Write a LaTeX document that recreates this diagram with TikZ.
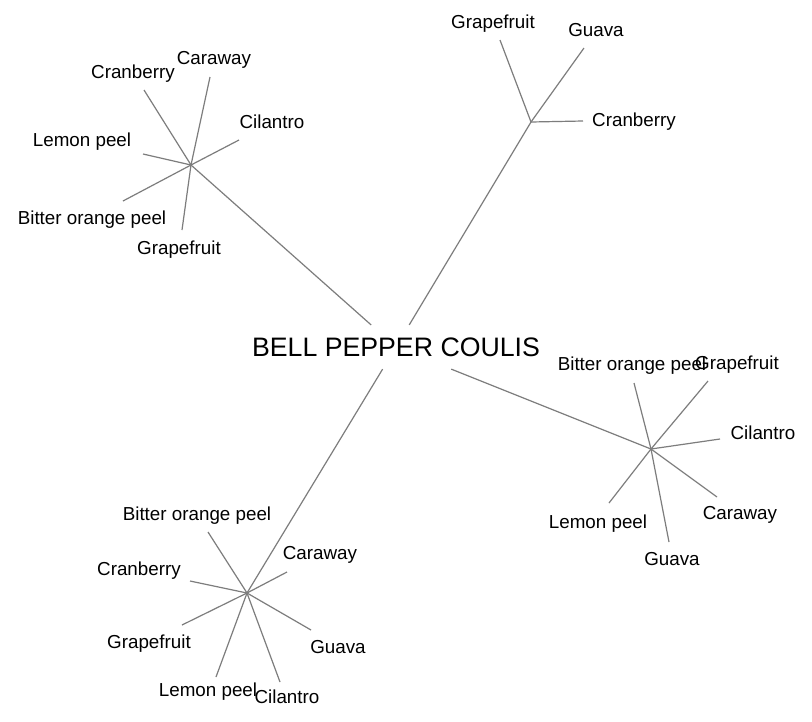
\documentclass[tikz,border=0pt]{standalone}
\usepackage{fontspec}
\setmainfont{Liberation Sans}
\definecolor{edgegray}{RGB}{125,125,125}
\tikzset{
  leaf/.style={font=\fontsize{18.8}{22}\selectfont, inner sep=0pt, text height=13pt, text depth=0pt},
  root/.style={font=\fontsize{26.7}{30}\selectfont, inner sep=0pt, text height=18.6pt, text depth=0pt, minimum height=43pt},
  every path/.style={draw=edgegray, line width=1.2pt}
}
\begin{document}
\begin{tikzpicture}[x=1pt, y=-1pt]
\useasboundingbox[draw=none, fill=white] (0,0) rectangle (812,721);
\node[root] (n00) at (396, 347) {BELL PEPPER COULIS};

\coordinate (h1) at (191, 165);
\coordinate (h2) at (531, 122);
\coordinate (h3) at (651, 449);
\coordinate (h4) at (247, 593);

\coordinate (e11) at (144, 90);
\coordinate (e12) at (210, 77);
\coordinate (e13) at (239, 140);
\coordinate (e14) at (143, 154);
\coordinate (e15) at (123, 201);
\coordinate (e16) at (182, 230);

\coordinate (e21) at (500, 40);
\coordinate (e22) at (584, 48);
\coordinate (e23) at (583, 121);

\coordinate (e31) at (634, 383);
\coordinate (e32) at (708, 381);
\coordinate (e33) at (720, 439);
\coordinate (e34) at (717, 497);
\coordinate (e35) at (669, 542);
\coordinate (e36) at (609, 503);

\coordinate (e41) at (208, 532);
\coordinate (e42) at (287, 572);
\coordinate (e43) at (190, 581);
\coordinate (e44) at (182, 625);
\coordinate (e45) at (216, 677);
\coordinate (e46) at (280, 682);
\coordinate (e47) at (311, 630);

\node[leaf] (l11) at (133, 72) {Cranberry};
\node[leaf] (l12) at (214, 58) {Caraway};
\node[leaf] (l13) at (272, 122) {Cilantro};
\node[leaf] (l14) at (82, 140) {Lemon peel};
\node[leaf] (l15) at (92, 218) {Bitter orange peel};
\node[leaf] (l16) at (179, 248) {Grapefruit};

\node[leaf] (l21) at (493, 22) {Grapefruit};
\node[leaf] (l22) at (596, 30) {Guava};
\node[leaf] (l23) at (634, 120) {Cranberry};

\node[leaf] (l31) at (632, 364) {Bitter orange peel};
\node[leaf] (l32) at (737, 363) {Grapefruit};
\node[leaf] (l33) at (763, 433) {Cilantro};
\node[leaf] (l34) at (740, 513) {Caraway};
\node[leaf] (l35) at (672, 559) {Guava};
\node[leaf] (l36) at (598, 522) {Lemon peel};

\node[leaf] (l41) at (197, 514) {Bitter orange peel};
\node[leaf] (l42) at (320, 553) {Caraway};
\node[leaf] (l43) at (139, 569) {Cranberry};
\node[leaf] (l44) at (149, 642) {Grapefruit};
\node[leaf] (l45) at (208, 690) {Lemon peel};
\node[leaf] (l46) at (287, 697) {Cilantro};
\node[leaf] (l47) at (338, 647) {Guava};

\draw (h1) -- (n00);
\draw (h2) -- (n00);
\draw (h3) -- (n00);
\draw (h4) -- (n00);

\draw (h1) -- (e11);
\draw (h1) -- (e12);
\draw (h1) -- (e13);
\draw (h1) -- (e14);
\draw (h1) -- (e15);
\draw (h1) -- (e16);

\draw (h2) -- (e21);
\draw (h2) -- (e22);
\draw (h2) -- (e23);

\draw (h3) -- (e31);
\draw (h3) -- (e32);
\draw (h3) -- (e33);
\draw (h3) -- (e34);
\draw (h3) -- (e35);
\draw (h3) -- (e36);

\draw (h4) -- (e41);
\draw (h4) -- (e42);
\draw (h4) -- (e43);
\draw (h4) -- (e44);
\draw (h4) -- (e45);
\draw (h4) -- (e46);
\draw (h4) -- (e47);
\end{tikzpicture}
\end{document}
